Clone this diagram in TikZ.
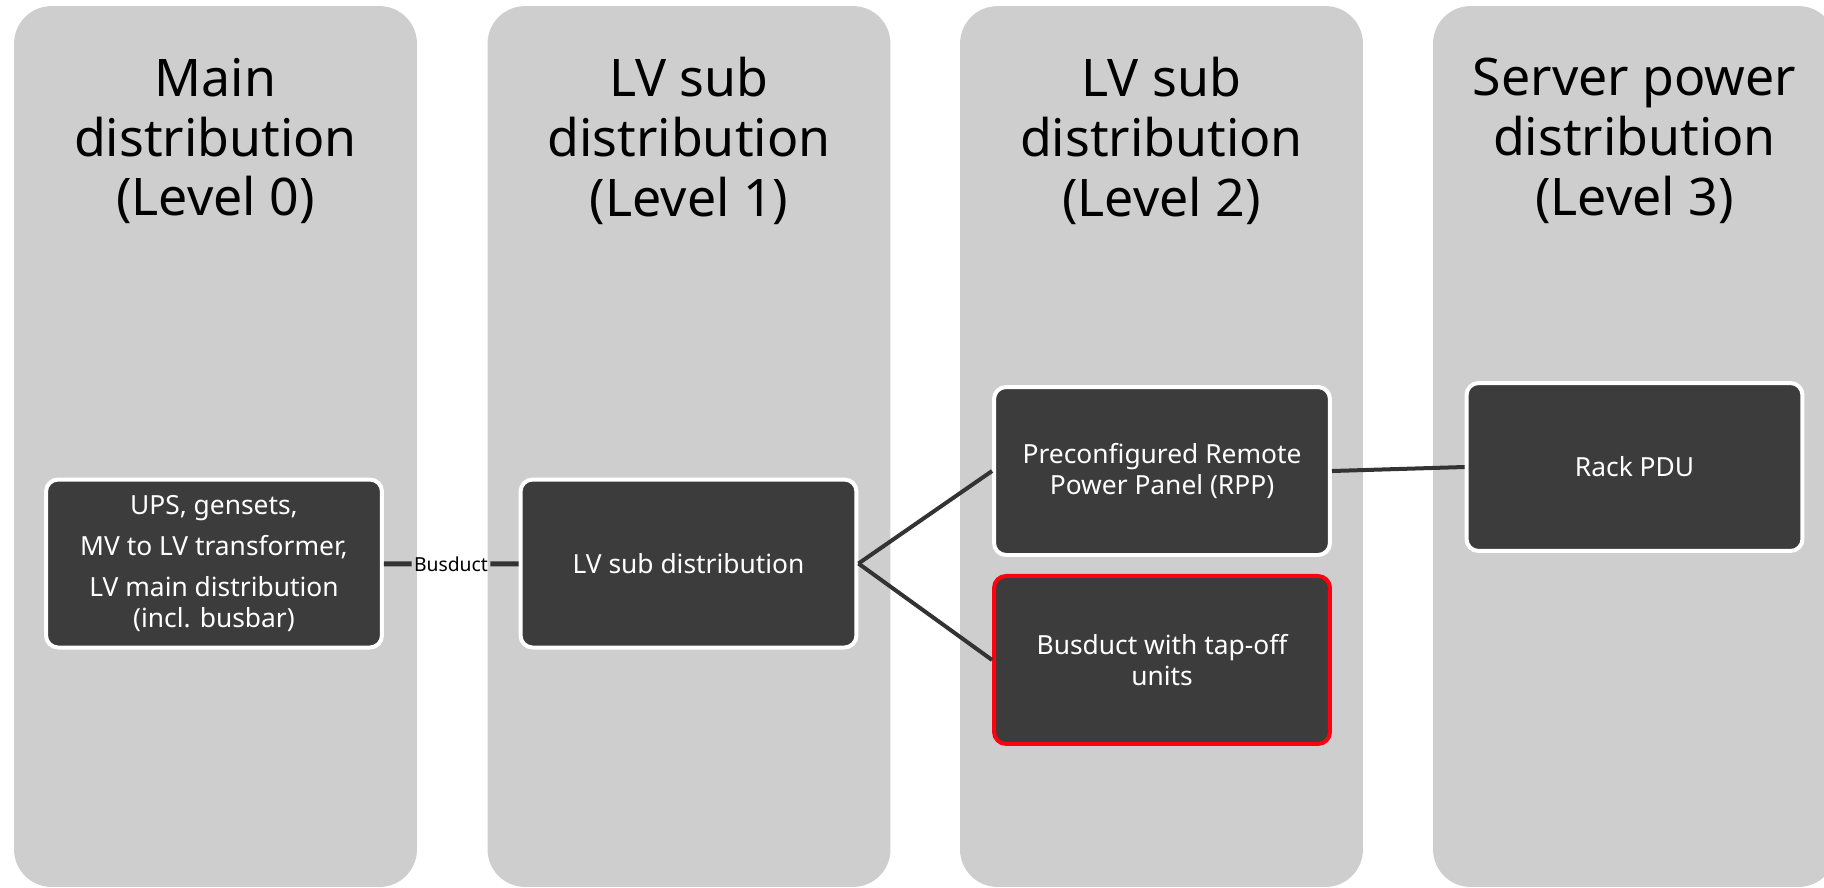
\documentclass[tikz,border=0pt]{standalone}
\usepackage{fontspec}
\setmainfont{Noto Sans}
\usetikzlibrary{positioning}
\definecolor{colgrey}{HTML}{CECECE}
\definecolor{boxdark}{HTML}{3C3C3C}
\definecolor{linedark}{HTML}{333333}
\definecolor{alertred}{HTML}{FF000F}

\begin{document}
\begin{tikzpicture}[
    x=0.02cm, y=-0.02cm,
    column/.style={rectangle, fill=colgrey, rounded corners=0.75cm, minimum width=8.06cm, minimum height=17.62cm},
    title/.style={align=center, font=\fontsize{29.5pt}{34pt}\selectfont},
    box/.style={rectangle, draw=white, fill=boxdark, line width=0.08cm, rounded corners=0.24cm, align=center, text=white, minimum width=6.72cm, minimum height=3.36cm, font=\fontsize{15pt}{17.6pt}\selectfont},
    hot/.style={box, draw=alertred},
    link/.style={draw=linedark, line width=0.08cm}
]
\useasboundingbox (0,0) rectangle (1824,887);
\clip (0,0) rectangle (1824,887);

\node[column] (col0) at (215.5,446.5) {};
\node[column] (col1) at (689,446.5) {};
\node[column] (col2) at (1161.5,446.5) {};
\node[column] (col3) at (1634.5,446.5) {};

\node[title] (title0) at (215.5,141) {Main\\distribution\\(Level 0)};
\node[title] (title1) at (689,141) {LV sub\\distribution\\(Level 1)};
\node[title] (title2) at (1161.5,141) {LV sub\\distribution\\(Level 2)};
\node[title] (title3) at (1634.5,141) {Server power\\distribution\\(Level 3)};

\node[box] (mains) at (214,563.5) {UPS, gensets,\\[6pt]MV to LV transformer,\\[6pt]LV main distribution\\(incl. busbar)};
\node[box] (lvsub) at (688.5,563.5) {LV sub distribution};
\node[box] (rpp) at (1162,471) {Preconfigured Remote\\Power Panel (RPP)};
\node[hot, below=0.34cm of rpp] (tapoff) {Busduct with tap-off\\units};
\node[box] (pdu) at (1634.5,467) {Rack PDU};
\node[inner sep=0.04cm, font=\fontsize{11pt}{13pt}\selectfont] (busduct) at (451,564) {Busduct};

\draw[link, line width=0.1cm] (mains) -- (busduct);
\draw[link, line width=0.1cm] (busduct) -- (lvsub);
\draw[link] (lvsub.east) -- (rpp.west);
\draw[link] (lvsub.east) -- (tapoff.west);
\draw[link] (rpp.east) -- (pdu.west);
\end{tikzpicture}
\end{document}
